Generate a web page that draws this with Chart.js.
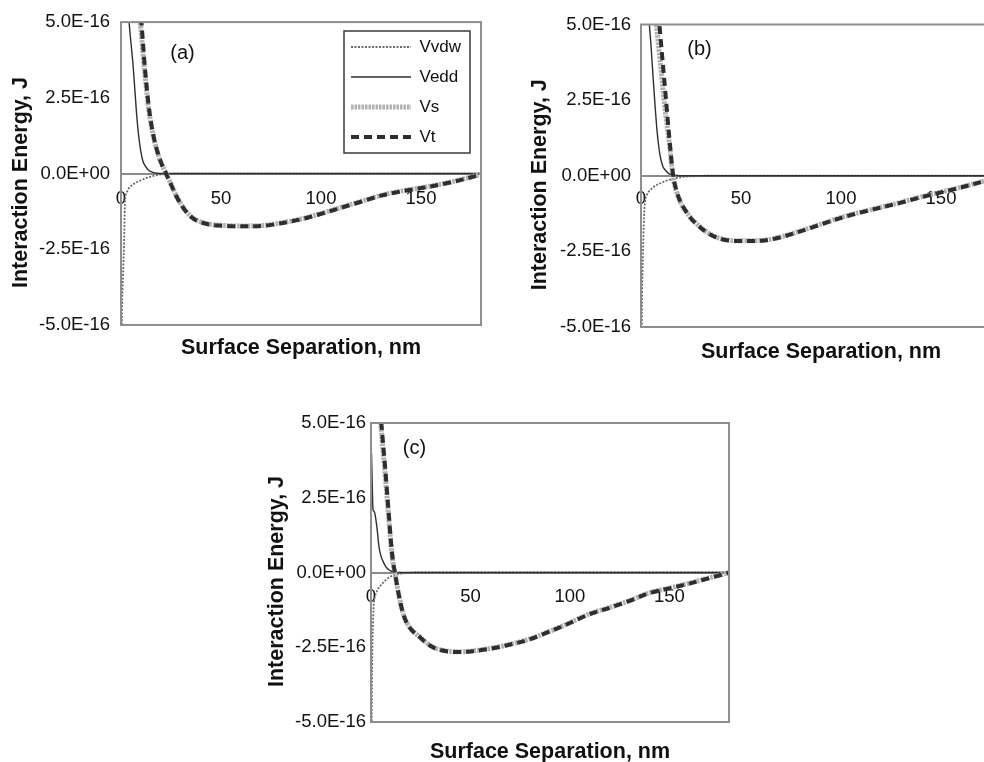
<!DOCTYPE html>
<html>
<head>
<meta charset="utf-8">
<title>Interaction energy vs surface separation</title>
<script src="https://cdn.jsdelivr.net/npm/chart.js@4.4.1/dist/chart.umd.min.js"></script>
<style>
  html, body { margin: 0; padding: 0; background: #fff; overflow: hidden; width: 984px; height: 762px; }
  canvas { position: absolute; }
</style>
</head>
<body>
<canvas id="chartA" width="490" height="362" style="left:0px;top:0px;width:490px;height:362px"></canvas>
<canvas id="chartB" width="490" height="366" style="left:520px;top:0px;width:490px;height:366px"></canvas>
<canvas id="chartC" width="490" height="362" style="left:250px;top:403px;width:490px;height:362px"></canvas>
<script>
// surface separation, nm (shared by every series)
const separation = [0.25, 0.5, 1, 1.5, 2, 3, 4, 5, 6, 7, 8, 9, 10, 11, 12, 14, 16, 18, 20, 22,
  25, 28, 32, 36, 40, 45, 50, 60, 70, 80, 90, 100, 110, 120, 130, 140, 150, 160, 170, 180];

// energies below are in units of 1E-16 J
const yTickValues = [-5, -2.5, 0, 2.5, 5];
const yTickLabels = ['-5.0E-16', '-2.5E-16', '0.0E+00', '2.5E-16', '5.0E-16'];
const xTickValues = [0, 50, 100, 150];
const seriesNames = ['Vvdw', 'Vedd', 'Vs', 'Vt'];

// panel (a)
const vvdwA = [-6.5, -4.6, -3.4, -2.4, -0.9, -0.6, -0.48, -0.41, -0.36, -0.32, -0.28, -0.25, -0.22, -0.19, -0.16, -0.12, -0.08, -0.05, -0.03, -0.02,
  -0.01, 0, 0, 0, 0, 0, 0, 0, 0, 0, 0, 0, 0, 0, 0, 0, 0, 0, 0, 0];
const veddA = [null, null, null, null, null, 5.8, 5.02, 4.3, 3.6, 2.7, 1.8, 1.15, 0.7, 0.4, 0.26, 0.1, 0.04, 0.01, 0, 0,
  0, 0, 0, 0, 0, 0, 0, 0, 0, 0, 0, 0, 0, 0, 0, 0, 0, 0, 0, 0];
const vsA = [null, null, null, null, null, null, null, null, null, null, 5.9, 5.3, 4.75, 3.95, 3.25, 2.05, 1.3, 0.76, 0.36, 0.08,
  -0.35, -0.78, -1.2, -1.47, -1.6, -1.68, -1.71, -1.73, -1.72, -1.63, -1.5, -1.32, -1.12, -0.92, -0.72, -0.58, -0.47, -0.35, -0.2, -0.02];
const vtA = [null, null, null, null, null, null, null, null, null, null, null, 6.0, 5.2, 4.3, 3.45, 2.15, 1.32, 0.77, 0.37, 0.08,
  -0.36, -0.79, -1.21, -1.48, -1.61, -1.69, -1.72, -1.74, -1.73, -1.64, -1.51, -1.33, -1.13, -0.93, -0.73, -0.59, -0.48, -0.36, -0.21, -0.03];

// panel (b)
const vvdwB = [-7, -4.2, -2.6, -1.4, -0.88, -0.62, -0.52, -0.45, -0.39, -0.34, -0.3, -0.27, -0.24, -0.21, -0.18, -0.14, -0.1, -0.07, -0.05, -0.03,
  -0.02, -0.01, 0, 0, 0, 0, 0, 0, 0, 0, 0, 0, 0, 0, 0, 0, 0, 0, 0, 0];
const veddB = [null, null, null, null, null, 6.0, 5.15, 4.3, 3.3, 2.35, 1.5, 0.9, 0.52, 0.3, 0.2, 0.07, 0.03, 0.01, 0, 0,
  0, 0, 0, 0, 0, 0, 0, 0, 0, 0, 0, 0, 0, 0, 0, 0, 0, 0, 0, 0];
const vsB = [null, null, null, null, null, null, null, null, null, 5.45, 4.8, 4.15, 3.5, 2.85, 2.2, 1.15, -0.02, -0.57, -0.91, -1.13,
  -1.4, -1.6, -1.82, -1.98, -2.08, -2.14, -2.15, -2.14, -2.02, -1.82, -1.6, -1.38, -1.2, -1.04, -0.88, -0.7, -0.54, -0.38, -0.2, -0.03];
const vtB = [null, null, null, null, null, null, null, null, null, null, 5.8, 5.15, 4.4, 3.64, 2.89, 1.38, 0.05, -0.55, -0.9, -1.13,
  -1.41, -1.61, -1.83, -1.99, -2.09, -2.15, -2.16, -2.15, -2.03, -1.83, -1.61, -1.39, -1.21, -1.05, -0.89, -0.71, -0.55, -0.39, -0.21, -0.04];

// panel (c)
const vvdwC = [-6.5, -3.6, -1.7, -1.0, -0.8, -0.62, -0.5, -0.42, -0.35, -0.28, -0.22, -0.17, -0.13, -0.1, -0.08, -0.05, -0.03, -0.02, -0.01, 0,
  0, 0, 0, 0, 0, 0, 0, 0, 0, 0, 0, 0, 0, 0, 0, 0, 0, 0, 0, 0];
const veddC = [4.0, 3.3, 2.12, 2.05, 1.95, 1.5, 0.87, 0.55, 0.38, 0.25, 0.15, 0.09, 0.05, 0.03, 0.01, 0, 0, 0, 0, 0,
  0, 0, 0, 0, 0, 0, 0, 0, 0, 0, 0, 0, 0, 0, 0, 0, 0, 0, 0, 0];
const vsC = [null, null, null, null, null, null, 5.6, 4.9, 4.1, 3.35, 2.55, 1.75, 0.95, 0.35, -0.02, -0.76, -1.33, -1.68, -1.88, -2.02,
  -2.18, -2.36, -2.52, -2.6, -2.64, -2.65, -2.63, -2.54, -2.4, -2.22, -1.96, -1.68, -1.38, -1.17, -0.94, -0.68, -0.52, -0.36, -0.18, 0];
const vtC = [null, null, null, null, null, null, 5.9, 5.15, 4.35, 3.6, 2.75, 1.9, 1.05, 0.4, 0.0, -0.76, -1.34, -1.69, -1.89, -2.03,
  -2.19, -2.37, -2.53, -2.61, -2.65, -2.66, -2.64, -2.55, -2.41, -2.23, -1.97, -1.69, -1.39, -1.18, -0.95, -0.69, -0.53, -0.37, -0.19, -0.01];

const FONT = "'Liberation Sans', Arial, sans-serif";
const INK = '#111111';
Chart.defaults.font.family = FONT;
Chart.defaults.color = INK;

// lower order is drawn on top, so Vt sits over Vs
const seriesStyle = [
  { color: '#6a6a6a', width: 1.8, dash: [2, 1.5], order: 3 },
  { color: '#2f2f2f', width: 1.4, dash: [], order: 2 },
  { color: '#b0b0b0', width: 5, dash: [2.5, 1], order: 1 },
  { color: '#2e2e2e', width: 4, dash: [8, 5], order: 0 }
];

// grey frame round the plot area
const plotFrame = {
  id: 'plotFrame',
  afterDatasetsDraw(chart) {
    const { ctx, chartArea: a } = chart;
    ctx.save();
    ctx.strokeStyle = '#8e8e8e';
    ctx.lineWidth = 2;
    ctx.strokeRect(a.left, a.top, a.right - a.left, a.bottom - a.top);
    ctx.restore();
  }
};

// "(a)", "(b)", "(c)" inside the plot
const panelTag = {
  id: 'panelTag',
  afterDatasetsDraw(chart, args, opts) {
    const { ctx, chartArea: a } = chart;
    ctx.save();
    ctx.font = '20px ' + FONT;
    ctx.fillStyle = INK;
    ctx.textAlign = 'center';
    ctx.textBaseline = 'middle';
    ctx.fillText(opts.text, a.left + opts.fx * (a.right - a.left), a.top + opts.fy * (a.bottom - a.top));
    ctx.restore();
  }
};

// move the legend into the upper right of the plot and box it
const legendInPlot = {
  id: 'legendInPlot',
  afterLayout(chart, args, opts) {
    const lg = chart.legend;
    if (!lg || !opts.enabled) return;
    lg.left = opts.left;
    lg.top = opts.top;
    lg.width = 150;
    lg.height = 200;
    lg.right = lg.left + lg.width;
    lg.bottom = lg.top + lg.height;
  },
  afterDraw(chart, args, opts) {
    if (!opts.enabled) return;
    const ctx = chart.ctx;
    const f = opts.frame;
    ctx.save();
    ctx.strokeStyle = '#3a3a3a';
    ctx.lineWidth = 1.5;
    ctx.strokeRect(f[0], f[1], f[2], f[3]);
    ctx.restore();
  }
};

function makeChart(canvasId, values, geo) {
  const datasets = seriesNames.map((name, i) => ({
    label: name,
    data: separation.map((x, j) => ({ x: x, y: values[i][j] })),
    borderColor: seriesStyle[i].color,
    backgroundColor: seriesStyle[i].color,
    borderWidth: seriesStyle[i].width,
    borderDash: seriesStyle[i].dash,
    order: seriesStyle[i].order,
    pointRadius: 0,
    pointHoverRadius: 0,
    cubicInterpolationMode: 'monotone',
    clip: 0,
    xAxisID: 'x',
    yAxisID: 'y'
  }));

  return new Chart(document.getElementById(canvasId), {
    type: 'line',
    data: { datasets: datasets },
    options: {
      responsive: false,
      animation: false,
      devicePixelRatio: 1,
      events: [],
      layout: { padding: { left: 0, top: geo.padTop, right: geo.padRight, bottom: 0 } },
      scales: {
        x: {
          type: 'linear',
          position: { y: 0 },
          min: 0,
          max: 180,
          afterBuildTicks: (s) => { s.ticks = xTickValues.map((v) => ({ value: v })); },
          ticks: { font: { size: 18.5 }, color: INK, padding: geo.xTickPad, maxRotation: 0, autoSkip: false },
          grid: { display: false, drawTicks: false },
          border: { display: true, color: '#8c8c8c', width: 2 }
        },
        xb: {
          type: 'linear',
          position: 'bottom',
          min: 0,
          max: 180,
          ticks: { display: false },
          grid: { display: false, drawTicks: false },
          border: { display: false },
          title: {
            display: true,
            text: 'Surface Separation, nm',
            color: INK,
            font: { size: 21.5, weight: 'bold' },
            padding: { top: 0, bottom: geo.xTitlePad }
          },
          afterFit: (s) => { s.height = geo.xbHeight; }
        },
        y: {
          type: 'linear',
          position: 'left',
          min: -5,
          max: 5,
          afterBuildTicks: (s) => { s.ticks = yTickValues.map((v) => ({ value: v })); },
          ticks: {
            callback: (v, i) => yTickLabels[i],
            font: { size: 18.5 },
            color: INK,
            padding: geo.yTickPad,
            autoSkip: false
          },
          grid: { display: false, drawTicks: false },
          border: { display: false },
          title: {
            display: true,
            text: 'Interaction Energy, J   ',
            color: INK,
            font: { size: 21.5, weight: 'bold' },
            padding: { top: geo.yTitlePad, bottom: 0 }
          },
          afterFit: (s) => { s.width = 121; }
        }
      },
      plugins: {
        tooltip: { enabled: false },
        legend: {
          display: !!geo.legend,
          position: 'chartArea',
          align: 'start',
          labels: {
            usePointStyle: true,
            pointStyle: 'line',
            pointStyleWidth: 60,
            font: { size: 17 },
            color: INK,
            padding: 13,
            sort: (a, b) => a.datasetIndex - b.datasetIndex,
            generateLabels: (chart) => {
              const items = Chart.defaults.plugins.legend.labels.generateLabels(chart);
              items.forEach((it) => {
                const ds = chart.data.datasets[it.datasetIndex];
                it.lineDash = ds.borderDash;
                it.lineWidth = ds.borderWidth;
                it.strokeStyle = ds.borderColor;
              });
              return items;
            }
          }
        },
        panelTag: geo.tag,
        legendInPlot: geo.legend || { enabled: false }
      }
    },
    plugins: [plotFrame, panelTag, legendInPlot]
  });
}

makeChart('chartA', [vvdwA, veddA, vsA, vtA], {
  padTop: 20, padRight: 9, xbHeight: 37, xTitlePad: 1.5, xTickPad: 14, yTickPad: 11, yTitlePad: 8.1,
  tag: { text: '(a)', fx: 0.171, fy: 0.104 },
  legend: { enabled: true, left: 338, top: 25.5, frame: [344, 31, 126, 122] }
});
makeChart('chartB', [vvdwB, veddB, vsB, vtB], {
  padTop: 24.5, padRight: 9, xbHeight: 39, xTitlePad: 1.5, xTickPad: 12, yTickPad: 10, yTitlePad: 7.1,
  tag: { text: '(b)', fx: 0.1625, fy: 0.084 }
});
makeChart('chartC', [vvdwC, veddC, vsC, vtC], {
  padTop: 20, padRight: 11, xbHeight: 43, xTitlePad: 0.5, xTickPad: 13, yTickPad: 5, yTitlePad: 14.1,
  tag: { text: '(c)', fx: 0.1215, fy: 0.085 }
});
</script>
</body>
</html>
